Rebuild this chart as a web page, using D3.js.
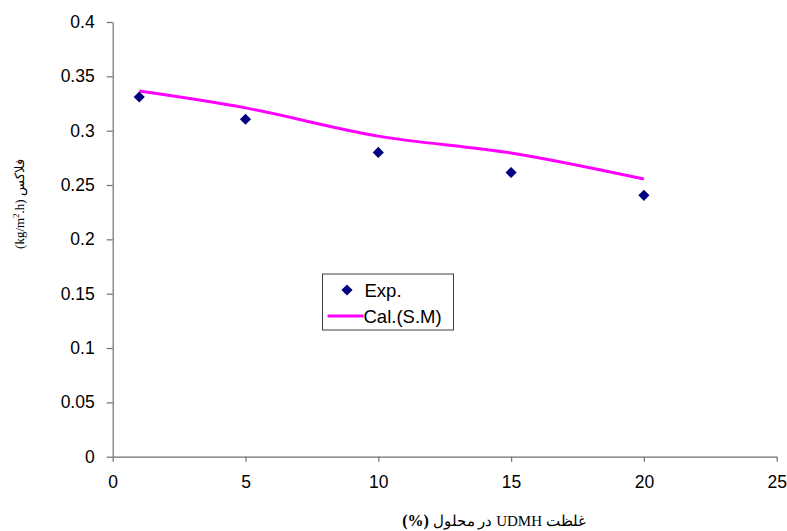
<!DOCTYPE html>
<html>
<head>
<meta charset="utf-8">
<script src="https://cdn.jsdelivr.net/npm/d3@7"></script>
<style>
  body { margin: 0; background: #fff; }
  svg { display: block; }
  .axis text { font-family: "Liberation Sans", Arial, sans-serif; font-size: 17.5px; fill: #000; }
  .axis path, .axis line { stroke: #707070; stroke-width: 1.2; }
</style>
</head>
<body>
<svg class="chart" width="787" height="531"></svg>
<script>
// data
const concentration = [1, 5, 10, 15, 20]
const fluxExp = [0.331, 0.3105, 0.280, 0.2615, 0.2405]
const fluxCal = [0.3365, 0.321, 0.295, 0.2795, 0.2555]
const xTicks = [0, 5, 10, 15, 20, 25]
const yTicks = [0, 0.05, 0.1, 0.15, 0.2, 0.25, 0.3, 0.35, 0.4]

const svg = d3.select("svg.chart")

const scaleX = d3.scaleLinear().domain([0, 25]).range([112.7, 776.7])
const scaleY = d3.scaleLinear().domain([0, 0.4]).range([456.7, 22])

// axes
const axisX = d3.axisBottom(scaleX)
    .tickValues(xTicks)
    .tickSizeInner(5)
    .tickSizeOuter(0)
    .tickPadding(14)
    .tickFormat(d3.format("d"))
svg.append("g")
    .attr("class", "axis")
    .attr("transform", `translate(0, ${scaleY(0)})`)
    .call(axisX)

const axisY = d3.axisLeft(scaleY)
    .tickValues(yTicks)
    .tickSizeInner(6)
    .tickSizeOuter(0)
    .tickPadding(12)
    .tickFormat(d => String(+d.toFixed(2)))
svg.append("g")
    .attr("class", "axis")
    .attr("transform", `translate(${scaleX(0)}, 0)`)
    .call(axisY)

// calculated line (smoothed)
const calData = concentration.map((c, i) => ({x: c, y: fluxCal[i]}))
const line = d3.line()
    .x(d => scaleX(d.x))
    .y(d => scaleY(d.y))
    .curve(d3.curveCatmullRom.alpha(0.5))

svg.append("path")
    .datum(calData)
    .attr("d", line)
    .attr("fill", "none")
    .attr("stroke", "#ff00ff")
    .attr("stroke-width", 3)

// experimental points
const diamond = d3.symbol(d3.symbolSquare, 62)
svg.selectAll("path.exp")
    .data(concentration.map((c, i) => ({x: c, y: fluxExp[i]})))
    .enter()
    .append("path")
    .attr("class", "exp")
    .attr("d", diamond)
    .attr("fill", "#000080")
    .attr("transform", d => `translate(${scaleX(d.x)}, ${scaleY(d.y)}) rotate(45)`)

// legend
const legend = svg.append("g").attr("transform", "translate(322.5, 274)")
legend.append("rect")
    .attr("x", 0).attr("y", 0)
    .attr("width", 131).attr("height", 56)
    .attr("fill", "#fff")
    .attr("stroke", "#404040")
    .attr("stroke-width", 1)
legend.append("path")
    .attr("d", diamond)
    .attr("fill", "#000080")
    .attr("transform", "translate(24.5, 16) rotate(45)")
legend.append("text")
    .attr("x", 42).attr("y", 23)
    .attr("font-family", "Liberation Sans, Arial, sans-serif")
    .attr("font-size", "18.5px")
    .text("Exp.")
legend.append("line")
    .attr("x1", 5).attr("x2", 41)
    .attr("y1", 42).attr("y2", 42)
    .attr("stroke", "#ff00ff")
    .attr("stroke-width", 3)
legend.append("text")
    .attr("x", 41).attr("y", 49)
    .attr("font-family", "Liberation Sans, Arial, sans-serif")
    .attr("font-size", "18.5px")
    .text("Cal.(S.M)")

// axis titles
const xTitle = svg.append("text")
    .attr("x", 494).attr("y", 526)
    .attr("text-anchor", "middle")
    .attr("font-family", "Liberation Serif, Times New Roman, DejaVu Serif, serif")
    .attr("font-size", "15px")
    .attr("direction", "ltr")
xTitle.append("tspan").attr("font-weight", "bold").attr("font-size", "16px").text("(%)")
xTitle.append("tspan").text(" در محلول ")
xTitle.append("tspan").text("UDMH")
xTitle.append("tspan").text(" غلظت")

const yTitle = svg.append("text")
    .attr("transform", "translate(24, 204) rotate(-90)")
    .attr("text-anchor", "middle")
    .attr("font-family", "Liberation Serif, Times New Roman, DejaVu Serif, serif")
    .attr("font-size", "13px")
    .attr("direction", "ltr")
yTitle.append("tspan").text("(kg/m")
yTitle.append("tspan").attr("dy", -5).attr("font-size", "9px").text("2")
yTitle.append("tspan").attr("dy", 5).text(".h)")
yTitle.append("tspan").text(" فلاکس")
</script>
</body>
</html>
